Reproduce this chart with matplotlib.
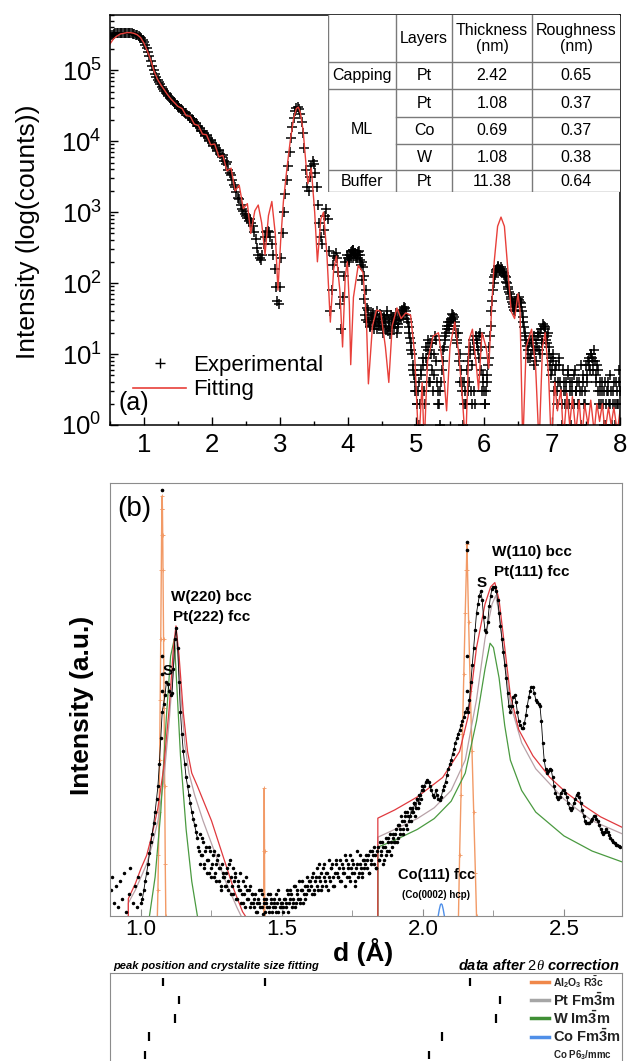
import numpy as np
import matplotlib
matplotlib.use('Agg')
import matplotlib.pyplot as plt
from matplotlib.lines import Line2D
from matplotlib.ticker import MultipleLocator, LogLocator, NullFormatter
from matplotlib.transforms import blended_transform_factory

plt.rcParams['font.family'] = ['Liberation Sans', 'DejaVu Sans']
plt.rcParams['mathtext.fontset'] = 'custom'
plt.rcParams['mathtext.rm'] = 'Liberation Sans'
plt.rcParams['mathtext.it'] = 'Liberation Serif:italic'
plt.rcParams['mathtext.bf'] = 'Liberation Sans:bold'

# ---------------- (a) XRR data: 2theta grid and log10(counts) ----------------
xrr_angle = np.round(np.arange(0.5, 8.0001, 0.02), 2)
xrr_log = [
    5.46, 5.49, 5.50, 5.51, 5.52, 5.52, 5.53, 5.53, 5.53, 5.53, 5.53, 5.53, 5.53, 5.53, 5.52, 5.52, 5.52, 5.51, 5.51, 5.50, 5.49, 5.48, 5.47, 5.45, 5.43,
    5.40, 5.36, 5.31, 5.26, 5.20, 5.13, 5.06, 5.00, 4.95, 4.90, 4.86, 4.83, 4.80, 4.77, 4.74, 4.71, 4.68, 4.66, 4.63, 4.61, 4.59, 4.57, 4.55, 4.53, 4.51,
    4.49, 4.47, 4.46, 4.43, 4.42, 4.40, 4.39, 4.36, 4.35, 4.33, 4.31, 4.30, 4.27, 4.26, 4.22, 4.21, 4.19, 4.15, 4.14, 4.12, 4.07, 4.08, 4.05, 4.00, 4.01,
    3.97, 3.93, 3.95, 3.90, 3.86, 3.88, 3.82, 3.78, 3.80, 3.72, 3.68, 3.70, 3.60, 3.55, 3.52, 3.45, 3.38, 3.35, 3.28, 3.20, 3.18, 3.10, 3.05, 3.02, 2.98,
    2.95, 2.92, 2.88, 2.90, 2.85, 2.80, 2.72, 2.62, 2.50, 2.40, 2.35, 2.32, 2.40, 2.55, 2.65, 2.72, 2.74, 2.72, 2.65, 2.55, 2.40, 2.20, 1.95, 1.75, 1.70,
    1.95, 2.35, 2.70, 3.00, 3.25, 3.45, 3.65, 3.85, 4.05, 4.20, 4.33, 4.42, 4.47, 4.48, 4.45, 4.38, 4.27, 4.12, 3.90, 3.60, 3.35, 3.30, 3.50, 3.65, 3.72,
    3.68, 3.55, 3.35, 3.10, 2.85, 2.65, 2.55, 2.75, 2.95, 3.05, 2.90, 2.45, 1.60, 1.90, 2.25, 2.38, 2.42, 2.35, 2.15, 1.70, 1.35, 1.80, 2.10, 2.30, 2.40,
    2.35, 2.30, 2.38, 2.45, 2.47, 2.42, 2.35, 2.40, 2.45, 2.40, 2.30, 2.22, 2.10, 1.90, 1.65, 1.45, 1.40, 1.55, 1.50, 1.35, 1.45, 1.60, 1.50, 1.40, 1.55,
    1.45, 1.30, 1.50, 1.35, 1.55, 1.40, 1.28, 1.45, 1.52, 1.38, 1.48, 1.30, 1.42, 1.55, 1.50, 1.60, 1.63, 1.65, 1.55, 1.45, 1.30, 1.15, 1.00, 0.78, 0.60,
    0.48, 0.30, 0.60, 0.30, 0.78, 0.95, 0.48, 1.10, 0.85, 1.20, 0.60, 1.00, 1.15, 0.70, 1.25, 0.90, 0.48, 0.30, 0.00, 0.78, 1.05, 1.20, 1.30, 1.40, 1.35,
    1.45, 1.50, 1.55, 1.52, 1.40, 1.20, 1.30, 1.00, 0.78, 0.60, 0.30, 0.48, 0.30, 0.90, 0.60, 1.10, 0.30, 1.20, 0.48, 1.25, 1.15, 0.95, 1.30, 1.10, 0.70,
    0.48, 0.30, 0.60, 0.85, 1.10, 1.40, 1.75, 2.00, 2.12, 2.18, 2.22, 2.20, 2.18, 2.20, 2.17, 2.12, 2.08, 2.00, 1.92, 1.85, 1.78, 1.70, 1.62, 1.68, 1.75,
    1.78, 1.76, 1.72, 1.60, 1.45, 1.30, 1.20, 1.05, 1.15, 0.95, 1.20, 1.05, 1.25, 0.90, 1.10, 1.30, 1.00, 1.35, 1.20, 1.40, 1.38, 1.25, 1.30, 1.10, 0.95,
    0.78, 1.00, 0.60, 0.85, 0.48, 0.95, 0.60, 0.30, 0.78, 0.48, 0.60, 0.30, 0.70, 0.48, 0.00, 0.60, 0.30, 0.78, 0.48, 0.30, 0.60, 0.00, 0.48, 0.70, 0.30,
    0.85, 0.60, 0.95, 0.78, 1.00, 0.90, 1.05, 0.70, 0.85, 0.48, 0.60, 0.30, 0.48, 0.00, 0.60, 0.30, 0.48, 0.30, 0.70, 0.00, 0.48, 0.30, 0.60, 0.30, 0.78,
    0.48,
]
# interleaved points of the same scan in the noisy high-angle part
xrr_angle2 = np.round(np.arange(4.01, 8.0, 0.02), 2)
xrr_log2 = [
    2.32, 2.40, 2.44, 2.46, 2.38, 2.43, 2.36, 2.44, 2.33, 2.25, 2.05, 1.78, 1.55, 1.48, 1.62, 1.45, 1.38, 1.52, 1.58, 1.42, 1.50, 1.35, 1.47, 1.56, 1.40,
    1.38, 1.52, 1.44, 1.60, 1.33, 1.47, 1.55, 1.36, 1.50, 1.42, 1.58, 1.38, 1.48, 1.52, 1.62, 1.57, 1.66, 1.60, 1.50, 1.38, 1.22, 1.05, 0.85, 0.70, 0.48,
    0.30, 0.48, 0.00, 0.70, 0.48, 0.85, 0.30, 0.95, 1.05, 0.60, 1.15, 0.78, 0.48, 1.00, 1.20, 0.60, 0.30, 0.48, 0.60, 0.90, 1.10, 1.25, 1.35, 1.45, 1.40,
    1.48, 1.56, 1.50, 1.45, 1.30, 1.15, 0.90, 0.60, 0.48, 0.00, 0.60, 0.30, 0.78, 0.48, 1.00, 0.48, 0.85, 1.05, 0.30, 1.20, 1.05, 1.25, 0.78, 0.48, 0.60,
    0.30, 0.48, 0.70, 0.95, 1.25, 1.60, 1.90, 2.08, 2.15, 2.20, 2.24, 2.19, 2.22, 2.16, 2.14, 2.10, 2.02, 1.95, 1.88, 1.80, 1.74, 1.66, 1.60, 1.72, 1.78,
    1.80, 1.74, 1.66, 1.52, 1.38, 1.25, 1.12, 0.95, 1.20, 1.00, 1.15, 0.85, 1.05, 1.20, 1.25, 1.05, 1.30, 1.15, 1.42, 1.35, 1.20, 1.15, 1.00, 0.85, 0.70,
    0.90, 0.48, 0.78, 0.30, 0.60, 0.85, 0.48, 0.00, 0.60, 0.30, 0.48, 0.78, 0.30, 0.60, 0.48, 0.30, 0.70, 0.48, 0.60, 0.30, 0.48, 0.85, 0.60, 0.30, 0.48,
    0.70, 0.90, 0.85, 1.00, 0.95, 0.78, 0.90, 0.60, 0.78, 0.30, 0.48, 0.60, 0.30, 0.48, 0.00, 0.48, 0.60, 0.30, 0.48, 0.30, 0.60, 0.00, 0.48, 0.30, 0.60,
]

fit_angle = [
    0.50, 0.55, 0.60, 0.65, 0.70, 0.75, 0.80, 0.85, 0.90, 0.95, 1.00, 1.05, 1.10, 1.15, 1.20, 1.25, 1.30, 1.35, 1.40, 1.45, 1.50,
    1.56, 1.62, 1.68, 1.74, 1.80, 1.86, 1.92, 1.98, 2.04, 2.10, 2.16, 2.22, 2.28, 2.34, 2.40, 2.46, 2.52, 2.57, 2.63, 2.68, 2.73, 2.78, 2.83, 2.88, 2.93, 2.97,
    3.01, 3.05, 3.10, 3.15, 3.20, 3.24, 3.27, 3.30, 3.34, 3.38, 3.41, 3.46, 3.51, 3.55, 3.60, 3.64, 3.69, 3.74, 3.79, 3.83, 3.88, 3.92, 3.96, 3.99,
    4.02, 4.04, 4.08, 4.15, 4.22, 4.27, 4.30, 4.36, 4.42, 4.48, 4.55, 4.60, 4.65, 4.72, 4.78, 4.85, 4.92, 4.98,
    5.04, 5.09, 5.12, 5.17, 5.25, 5.33, 5.40, 5.45, 5.50, 5.57, 5.63, 5.68, 5.73, 5.78, 5.83, 5.88, 5.92, 5.97,
    6.03, 6.07, 6.11, 6.15, 6.20, 6.25, 6.30, 6.35, 6.40, 6.45, 6.50, 6.53, 6.57, 6.62, 6.70, 6.76, 6.81, 6.86, 6.90, 6.95, 6.99,
    7.04, 7.08, 7.13, 7.17, 7.22, 7.26, 7.30, 7.35, 7.40, 7.44, 7.48, 7.53, 7.57, 7.62, 7.66, 7.70, 7.74, 7.78, 7.83, 7.87, 7.91, 7.96, 8.00,
]
fit_log = [
    5.37, 5.44, 5.48, 5.51, 5.52, 5.53, 5.53, 5.52, 5.50, 5.46, 5.38, 5.27, 5.14, 4.98, 4.87, 4.79, 4.72, 4.65, 4.59, 4.54, 4.49,
    4.46, 4.36, 4.35, 4.24, 4.22, 4.10, 4.09, 3.95, 3.96, 3.78, 3.80, 3.58, 3.62, 3.30, 3.38, 3.05, 3.12, 2.70, 3.02, 3.10, 2.85, 2.40, 2.95, 3.15, 2.70, 1.90,
    2.60, 3.15, 3.60, 4.00, 4.32, 4.46, 4.48, 4.40, 4.15, 3.70, 3.40, 3.62, 3.00, 2.30, 2.90, 3.00, 2.40, 1.45, 2.20, 2.38, 1.90, 1.10, 2.10, 2.30,
    1.70, 0.85, 1.80, 2.25, 2.15, 1.50, 0.58, 1.40, 1.62, 1.60, 1.10, 0.60, 1.40, 1.65, 1.50, 1.58, 1.55, 1.00,
    -0.30, 0.60, -0.30, 0.90, 1.25, 1.30, 0.80, 0.20, 1.10, 1.45, 1.00, 0.40, -0.30, 1.20, 1.35, 0.90, 0.50, 1.30,
    1.10, 0.80, 1.60, 2.30, 2.80, 2.93, 2.80, 2.20, 1.60, 1.50, 1.85, 1.60, -0.30, 1.10, 1.35, 0.80, -0.30, 1.10, 1.30, 0.70, -0.30,
    0.60, 0.20, 0.50, -0.20, 0.45, 0.00, 0.40, -0.10, 0.35, -0.20, 0.30, 0.00, 0.35, -0.10, 0.30, 0.05, 0.30, -0.10, 0.25, 0.00, 0.25, -0.10, 0.20,
]

table_header = ['', 'Layers', 'Thickness\n(nm)', 'Roughness\n(nm)']
table_groups = ['Capping', 'ML', 'Buffer']
table_layers = ['Pt', 'Pt', 'Co', 'W', 'Pt']
table_thick = ['2.42', '1.08', '0.69', '1.08', '11.38']
table_rough = ['0.65', '0.37', '0.37', '0.38', '0.64']

# ---------------- (b) XRD data: d spacing (A) and intensity (a.u.) ----------------
xrd_sparse_d = [0.893, 0.898, 0.905, 0.912, 0.918, 0.926, 0.933, 0.941, 0.947, 0.956, 0.962, 0.970, 0.977, 0.984, 0.991, 0.996]
xrd_sparse_i = [6, 9, 3, 7, 2, 8, 4, 10, 1, 5, 11, 3, 7, 2, 9, 5]

xrd_d = np.round(np.arange(1.0, 2.7001, 0.005), 3)
xrd_i = [
    3, 4, 6, 8, 10, 12, 14.5, 17, 19, 21.5, 24, 27, 30, 35, 41, 47, 49, 51, 54, 53.5,
    52, 51, 51.5, 57, 64, 66.5, 62, 54, 47, 42, 38, 35, 32, 30, 28, 26, 24, 22.5, 21, 19.5,
    18, 15, 19, 14, 17, 12, 16, 13, 10, 15, 11, 14, 9, 12, 13, 8, 11, 7, 10, 9,
    7, 11, 6, 13, 9, 5, 8, 10, 4, 7, 6, 3, 8, 5, 2, 6, 4, 7, 3, 5,
    2, 5, 1, 4, 3, 6, 2, 4, 1, 3, 5, 2, 4, 1, 3, 2, 5, 1, 4, 2,
    3, 1, 4, 2, 5, 3, 6, 2, 4, 7, 3, 5, 8, 4, 6, 3, 7, 5, 9, 6,
    8, 5, 10, 6, 9, 7, 12, 8, 6, 11, 9, 7, 10, 13, 8, 11, 9, 7, 12, 10,
    9, 13, 8, 11, 10, 14, 9, 12, 8, 11, 13, 10, 7, 12, 9, 14, 11, 10, 13, 12,
    11, 14, 10, 13, 15, 12, 14, 11, 16, 13, 15, 17, 12, 16, 14, 18, 15, 17, 16, 19,
    17, 20, 18, 21, 19, 22, 20, 23, 21, 24, 22, 23, 25, 24, 26, 25, 27, 26, 28, 29,
    29, 30, 31, 31.5, 31, 30, 29, 28, 27.5, 29, 28, 27, 26.8, 27.5, 29, 30, 31, 32.5, 34, 35,
    36, 37.5, 38.5, 40, 41, 42, 43, 44, 45, 46, 47, 48, 47, 50, 54, 58, 62, 66, 70, 72,
    74, 75, 73, 69, 66, 65.5, 68, 71.5, 74, 75.5, 76, 76, 75, 73, 70, 67, 64, 61, 58, 55,
    51.5, 48.5, 47, 48.5, 50.5, 51, 49.5, 47, 45, 44, 43.5, 43.4, 44.5, 46.5, 48.5, 50.5, 52, 53, 52.8, 51.5,
    50, 49.5, 49, 48.5, 45, 40, 36, 34, 33, 33.5, 34, 33.7, 32, 30, 28.5, 27.5, 27, 27.5, 28.5, 29,
    29, 28.5, 27.5, 26, 25, 24.5, 25, 26, 27, 28, 28.4, 27.5, 26, 24.5, 23, 22, 21.5, 21.5, 21.5, 22,
    22.5, 23, 23, 22.5, 22, 21, 20, 19.5, 19, 19.5, 20, 19.5, 18.7, 18, 17.5, 17, 16.8, 16.5, 16.4, 16.2,
    16,
]
# interleaved points of the noisy background between the peaks
xrd_d2 = np.round(np.arange(1.2025, 2.0, 0.005), 4)
xrd_i2 = [
    16, 12, 14, 18, 11, 15, 10, 13, 16, 9, 12, 15, 10, 8, 14, 11, 6, 12, 9, 7,
    10, 8, 12, 5, 7, 11, 9, 4, 8, 6, 10, 5, 3, 7, 9, 4, 6, 2, 5, 3,
    4, 1, 3, 6, 2, 5, 0.5, 3, 4, 2, 1, 5, 3, 2, 4, 1, 3, 6, 2, 3,
    2, 4, 3, 6, 1, 4, 5, 3, 7, 2, 6, 4, 3, 6, 8, 5, 4, 7, 6, 8,
    7, 9, 5, 8, 11, 6, 9, 10, 7, 12, 8, 10, 6, 9, 11, 12, 7, 10, 13, 9,
    11, 8, 12, 10, 7, 13, 11, 9, 14, 10, 12, 8, 11, 15, 10, 12, 9, 13, 11, 14,
    13, 10, 15, 12, 14, 16, 11, 15, 13, 17, 14, 16, 13, 18, 15, 17, 19, 14, 18, 17,
    19, 17, 21, 20, 23, 19, 22, 24, 20, 23, 25, 22, 24, 26, 23, 27, 25, 28, 27, 30,
]
# substrate spikes
spike_d = [1.075, 1.0745, 1.0755, 1.074, 2.156, 2.156, 2.1555, 2.1565]
spike_i = [98.4, 60, 56, 52, 86.4, 84.5, 60, 52]

# fitted profiles
tot_left_d = [0.955, 0.955, 0.98, 1.00, 1.02, 1.04, 1.06, 1.08, 1.10, 1.115, 1.124, 1.135, 1.15, 1.165, 1.18, 1.20, 1.25, 1.30, 1.33, 1.36, 1.37]
tot_left_i = [0, 4, 7.5, 11, 14, 19, 25, 34, 48, 62, 67, 60, 47, 38, 33, 30, 22, 12, 6, 1, 0]
pt_left_d = [0.955, 0.955, 0.98, 1.00, 1.02, 1.04, 1.06, 1.08, 1.10, 1.115, 1.128, 1.14, 1.155, 1.17, 1.19, 1.22, 1.26, 1.30, 1.34, 1.355]
pt_left_i = [0, 3, 6, 9, 12, 16.5, 22, 31, 45, 58, 64, 52, 40, 33, 28, 22, 15, 8, 2, 0]
w_left_d = [1.030, 1.05, 1.07, 1.09, 1.105, 1.118, 1.128, 1.14, 1.16, 1.18, 1.20]
w_left_i = [0, 9, 24, 46, 60, 64, 52, 37, 20, 8, 0]

tot_right_d = [1.84, 1.84, 1.90, 1.98, 2.04, 2.07, 2.10, 2.13, 2.16, 2.19, 2.22, 2.24, 2.255, 2.27, 2.29, 2.31, 2.34, 2.39, 2.45, 2.51, 2.57, 2.63, 2.706]
tot_right_i = [0, 22.6, 24.5, 27.5, 30.5, 32, 35, 38, 46, 62, 72, 76, 77, 73, 62, 51, 43, 37, 32, 28.4, 25.5, 22.9, 20.5]
pt_right_d = [1.84, 1.84, 1.90, 1.98, 2.04, 2.10, 2.15, 2.19, 2.22, 2.245, 2.258, 2.27, 2.29, 2.31, 2.35, 2.40, 2.50, 2.60, 2.706]
pt_right_i = [0, 18.2, 20, 22.5, 25, 29, 36, 50, 64, 72, 74, 70, 59, 49, 40, 34, 27, 22, 19]
w_right_d = [1.84, 1.84, 1.90, 1.98, 2.04, 2.10, 2.15, 2.19, 2.22, 2.238, 2.25, 2.27, 2.29, 2.31, 2.35, 2.40, 2.50, 2.60, 2.706]
w_right_i = [0, 15.9, 17.5, 20, 22.5, 26.5, 33, 45, 57, 63, 62, 55, 44, 36, 29, 24, 18.5, 15, 12.5]
co_d = [2.054, 2.058, 2.062, 2.065, 2.068, 2.072, 2.076]
co_i = [0, 1.5, 2.6, 2.8, 2.6, 1.5, 0]

al_peaks_d = [
    [1.058, 1.060, 1.062, 1.064, 1.066, 1.068, 1.070, 1.072, 1.073, 1.074, 1.075, 1.076, 1.077, 1.078, 1.080, 1.082, 1.084, 1.086, 1.088],
    [1.435, 1.436, 1.437, 1.438, 1.439],
    [2.126, 2.130, 2.135, 2.140, 2.145, 2.150, 2.154, 2.156, 2.158, 2.162, 2.168, 2.174, 2.180, 2.186, 2.190],
]
al_peaks_i = [
    [0, 6, 14, 24, 36, 50, 64, 80, 88, 94, 97, 94, 88, 80, 64, 48, 30, 12, 0],
    [0, 15, 29.5, 15, 0],
    [0, 14, 28, 42, 56, 70, 80, 86, 80, 68, 52, 38, 24, 10, 0],
]

# reference phase positions
phase_names = ['Al$_\\mathbf{2}$O$_\\mathbf{3}$ R$\\mathbf{\\bar{3}}$c', 'Pt Fm$\\mathbf{\\bar{3}}$m',
               'W Im$\\mathbf{\\bar{3}}$m', 'Co Fm$\\mathbf{\\bar{3}}$m', 'Co P6$_\\mathbf{3}$/mmc']
phase_ticks = [[1.077, 1.438, 2.166], [1.135, 2.272], [1.120, 2.260], [1.028, 2.068], [1.015, 2.022]]
phase_colors = ['#f0884a', '#a6a6a6', '#3f8f35', '#4f8fe8', None]
phase_sizes = [7.5, 10.5, 10.5, 10.5, 7]

W, H = 630, 1061
fig = plt.figure(figsize=(W / 100, H / 100), dpi=100)


def fbox(x0, y0, x1, y1):
    return [x0 / W, 1 - y1 / H, (x1 - x0) / W, (y1 - y0) / H]


# ---------------- panel (a) ----------------
ax1 = fig.add_axes(fbox(110, 15, 620, 425))
ax1.plot(xrr_angle, 10 ** np.array(xrr_log), ls='none', marker='+', ms=6.5, mew=1.1, color='k')
ax1.plot(xrr_angle2, 10 ** np.array(xrr_log2), ls='none', marker='+', ms=6.5, mew=1.1, color='k')
ax1.plot(fit_angle, 10 ** np.array(fit_log), color='#e8403a', lw=1.0)
ax1.set_yscale('log')
ax1.set_xlim(0.5, 8)
ax1.set_ylim(1, 6e5)
ax1.xaxis.set_major_locator(MultipleLocator(1))
ax1.xaxis.set_minor_locator(MultipleLocator(0.5))
ax1.yaxis.set_major_locator(LogLocator(base=10, numticks=10))
ax1.yaxis.set_minor_locator(LogLocator(base=10, subs=np.arange(2, 10), numticks=20))
ax1.yaxis.set_minor_formatter(NullFormatter())
ax1.tick_params(which='both', direction='in', top=False, right=False, labelsize=18.5, width=1)
ax1.tick_params(which='major', length=6, pad=6)
ax1.tick_params(which='minor', length=3)
for s in ax1.spines.values():
    s.set_linewidth(1.1)

handles = [Line2D([], [], ls='none', marker='+', ms=7, mew=1, color='k'),
           Line2D([], [], color='#e8403a', lw=1.2)]
ax1.legend(handles, ['Experimental', 'Fitting'], loc='lower left', bbox_to_anchor=(0.045, 0.06),
           frameon=False, fontsize=16, handlelength=2.4, handletextpad=0.3, labelspacing=0.15,
           borderaxespad=0, borderpad=0)
ax1.text(0.047, 0.054, '(a)', transform=ax1.transAxes, fontsize=18, ha='center', va='center')
fig.text(28 / W, 1 - 232 / H, 'Intensity (log(counts))', rotation=90, ha='center', va='center', fontsize=19)

# table
tax = fig.add_axes(fbox(328, 15, 620, 192))
tax.set_xlim(328, 620)
tax.set_ylim(192, 15)
tax.axis('off')
tax.add_patch(plt.Rectangle((328, 15), 292, 177, facecolor='white', edgecolor='none'))
cols = [328, 396, 452, 532, 620]
rows = [15, 62, 89, 117, 144, 170, 192]
lc = '#7a7a7a'
for x in cols[:-1]:
    tax.plot([x, x], [rows[0], rows[-1]], color=lc, lw=1)
for k, y in enumerate(rows[1:]):
    x0 = cols[1] if k in (2, 3) else cols[0]
    tax.plot([x0, cols[-1]], [y, y], color=lc, lw=1)
for j, t in enumerate(table_header):
    tax.text((cols[j] + cols[j + 1]) / 2, (rows[0] + rows[1]) / 2, t, ha='center', va='center',
             fontsize=11.5, linespacing=1.05)
group_rows = [(1, 2), (2, 5), (5, 6)]
for g, (r0, r1) in zip(table_groups, group_rows):
    tax.text((cols[0] + cols[1]) / 2, (rows[r0] + rows[r1]) / 2, g, ha='center', va='center', fontsize=11.5)
for k in range(5):
    yc = (rows[k + 1] + rows[k + 2]) / 2
    for j, t in enumerate([table_layers[k], table_thick[k], table_rough[k]]):
        tax.text((cols[j + 1] + cols[j + 2]) / 2, yc, t, ha='center', va='center', fontsize=11.5)

# ---------------- panel (b) ----------------
gc = '#8c8c8c'
ax2 = fig.add_axes(fbox(110, 483, 622, 916))
ax2.set_xlim(0.890, 2.706)
ax2.set_ylim(0, 100)
for d, i in zip(al_peaks_d, al_peaks_i):
    ax2.plot(d, i, color='#f29a66', lw=1, marker='+', ms=3, mew=0.6)
ax2.plot(pt_left_d, pt_left_i, color='#b8a2a8', lw=0.9)
ax2.plot(pt_right_d, pt_right_i, color='#b8a2a8', lw=0.9)
ax2.plot(w_left_d, w_left_i, color='#4a9a40', lw=0.9)
ax2.plot(w_right_d, w_right_i, color='#4a9a40', lw=0.9)
ax2.plot(tot_left_d, tot_left_i, color='#e0393e', lw=0.9)
ax2.plot(tot_right_d, tot_right_i, color='#e0393e', lw=0.9)
ax2.plot(co_d, co_i, color='#4f8fe8', lw=1)
xi = np.array(xrd_i)
peak_l = xrd_d <= 1.2
peak_r = xrd_d >= 1.95
ax2.plot(xrd_d[peak_l], xi[peak_l], color='k', lw=0.6)
ax2.plot(xrd_d[peak_r], xi[peak_r], color='k', lw=0.6)
ax2.plot(xrd_sparse_d, xrd_sparse_i, ls='none', marker='o', ms=1.5, color='k')
ax2.plot(xrd_d, xi, ls='none', marker='o', ms=1.5, color='k')
ax2.plot(xrd_d2, xrd_i2, ls='none', marker='o', ms=1.5, color='k')
ax2.plot(spike_d, spike_i, ls='none', marker='o', ms=1.6, color='k')
ax2.set_yticks([])
ax2.xaxis.set_major_locator(MultipleLocator(0.5))
ax2.xaxis.set_minor_locator(MultipleLocator(0.25))
ax2.xaxis.set_major_formatter(plt.FormatStrFormatter('%.1f'))
ax2.tick_params(which='both', direction='in', top=False, labelsize=16, color=gc, pad=2)
ax2.tick_params(which='major', length=5)
ax2.tick_params(which='minor', length=4)
for s in ax2.spines.values():
    s.set_color(gc)

ax2.text(0.047, 0.94, '(b)', transform=ax2.transAxes, fontsize=20, ha='center', va='center')
bold = dict(fontweight='bold', ha='center', va='center')
ax2.text(1.248, 73.7, 'W(220) bcc', fontsize=11, **bold)
ax2.text(1.250, 69.0, 'Pt(222) fcc', fontsize=11, **bold)
ax2.text(1.096, 56.5, 'S', fontsize=11, **bold)
ax2.text(2.387, 84.1, 'W(110) bcc', fontsize=11, **bold)
ax2.text(2.387, 79.4, 'Pt(111) fcc', fontsize=11, **bold)
ax2.text(2.209, 76.8, 'S', fontsize=11, **bold)
ax2.text(2.050, 9.5, 'Co(111) fcc', fontsize=10.5, **bold)
ax2.text(2.046, 4.8, '(Co(0002) hcp)', fontsize=7, **bold)

fig.text(82 / W, 1 - 705 / H, 'Intensity (a.u.)', rotation=90, ha='center', va='center',
         fontsize=19, fontweight='bold')
fig.text(363 / W, 1 - 952 / H, 'd (Å)', ha='center', va='center', fontsize=19, fontweight='bold')
fig.text(113 / W, 1 - 966 / H, 'peak position and crystalite size fitting', ha='left', va='center',
         fontsize=8, fontweight='bold', fontstyle='italic')
fig.text(620 / W, 1 - 966 / H, r'data after $\mathit{2\theta}$ correction', ha='right', va='center',
         fontsize=10.5, fontweight='bold', fontstyle='italic')

# ---------------- reference positions box ----------------
ax3 = fig.add_axes(fbox(110, 973, 622, 1071))
ax3.set_xlim(0.890, 2.706)
ax3.set_ylim(4.88, -0.49)
ax3.set_xticks([])
ax3.set_yticks([])
for s in ax3.spines.values():
    s.set_color(gc)
tr = blended_transform_factory(ax3.transAxes, ax3.transData)
for k, (name, pos, col, fs) in enumerate(zip(phase_names, phase_ticks, phase_colors, phase_sizes)):
    ax3.vlines(pos, k - 0.23, k + 0.23, color='k', lw=1.6)
    if col is not None:
        ax3.plot([0.822, 0.857], [k, k], color=col, lw=2.5, transform=tr)
    ax3.text(0.865, k, name, transform=tr, fontsize=fs, fontweight='bold', ha='left', va='center',
             color='#222222')

fig.savefig('out.png', dpi=100)
